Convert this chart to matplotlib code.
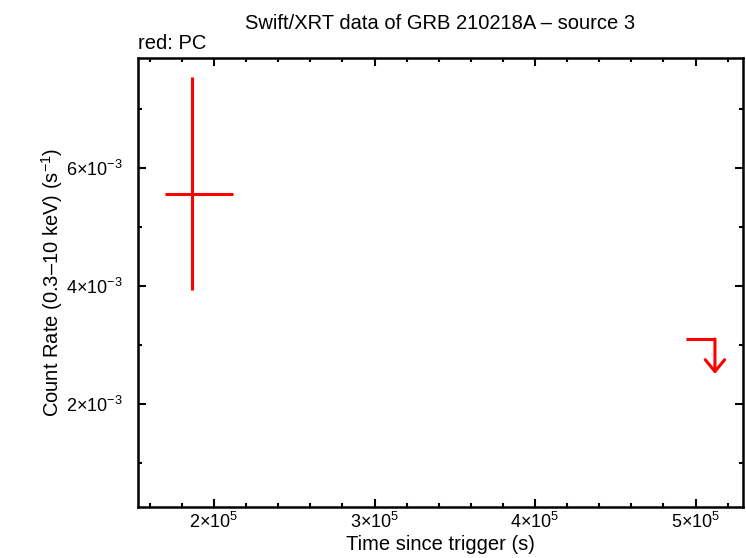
import matplotlib
matplotlib.use("Agg")
import matplotlib.pyplot as plt
from matplotlib.ticker import MultipleLocator, FuncFormatter

plt.rcParams['font.family'] = ['Liberation Sans', 'DejaVu Sans']
plt.rcParams['mathtext.fontset'] = 'custom'
plt.rcParams['mathtext.rm'] = 'Liberation Sans'
plt.rcParams['mathtext.it'] = 'Liberation Sans'

# PC detection
pc_t = [1.863e5]
pc_t_lo = [1.695e5]
pc_t_hi = [2.118e5]
pc_rate = [5.555e-3]
pc_rate_lo = [3.93e-3]
pc_rate_hi = [7.535e-3]

# PC upper limit
ul_t_lo = [4.941e5]
ul_t = [5.121e5]
ul_rate = [3.10e-3]
ul_drop = 0.59e-3

red = '#ff0000'

fig = plt.figure(figsize=(7.46, 5.58), dpi=100)
ax = fig.add_axes([0.185, 0.0914, 0.811, 0.8046])

xerr = [[t - lo for t, lo in zip(pc_t, pc_t_lo)], [hi - t for t, hi in zip(pc_t, pc_t_hi)]]
yerr = [[r - lo for r, lo in zip(pc_rate, pc_rate_lo)], [hi - r for r, hi in zip(pc_rate, pc_rate_hi)]]
ax.errorbar(pc_t, pc_rate, xerr=xerr, yerr=yerr, fmt='none', ecolor=red, elinewidth=2.2, capsize=0)

for lo, t, r in zip(ul_t_lo, ul_t, ul_rate):
    ax.plot([lo, t], [r, r], color=red, lw=2.2, solid_capstyle='butt')
    ax.annotate('', xy=(t, r - ul_drop), xytext=(t, r),
                arrowprops=dict(arrowstyle='->,head_length=0.85,head_width=0.7',
                                color=red, lw=2.2, shrinkA=0, shrinkB=0))

ax.set_xlim(1.5265e5, 5.296e5)
ax.set_ylim(0.257e-3, 7.856e-3)

ax.xaxis.set_major_locator(MultipleLocator(1e5))
ax.xaxis.set_minor_locator(MultipleLocator(2e4))
ax.yaxis.set_major_locator(MultipleLocator(2e-3))
ax.yaxis.set_minor_locator(MultipleLocator(1e-3))


def sci(v, pos):
    if v == 0:
        return '0'
    exp = int(f'{v:e}'.split('e')[1])
    mant = round(v / 10 ** exp)
    return r'$%d{\times}10^{%d}$' % (mant, exp)


ax.xaxis.set_major_formatter(FuncFormatter(sci))
ax.yaxis.set_major_formatter(FuncFormatter(sci))

ax.tick_params(which='both', direction='in', top=True, right=True, width=1.5, labelsize=13)
ax.tick_params(which='major', length=6)
ax.tick_params(which='minor', length=3)
ax.tick_params(axis='x', pad=3.5)
ax.tick_params(axis='y', pad=11)
for s in ax.spines.values():
    s.set_linewidth(1.8)

ax.set_xlabel('Time since trigger (s)', fontsize=14.5, labelpad=2)
ax.set_ylabel('Count Rate (0.3\u201310 keV) (s$^{-1}$)', fontsize=14.5, labelpad=1)
ax.set_title('Swift/XRT data of GRB 210218A \u2013 source 3', fontsize=14.5, pad=21)
ax.text(0, 1.012, 'red: PC', transform=ax.transAxes, fontsize=14.5, ha='left', va='bottom')

fig.savefig('out.png', dpi=100)
